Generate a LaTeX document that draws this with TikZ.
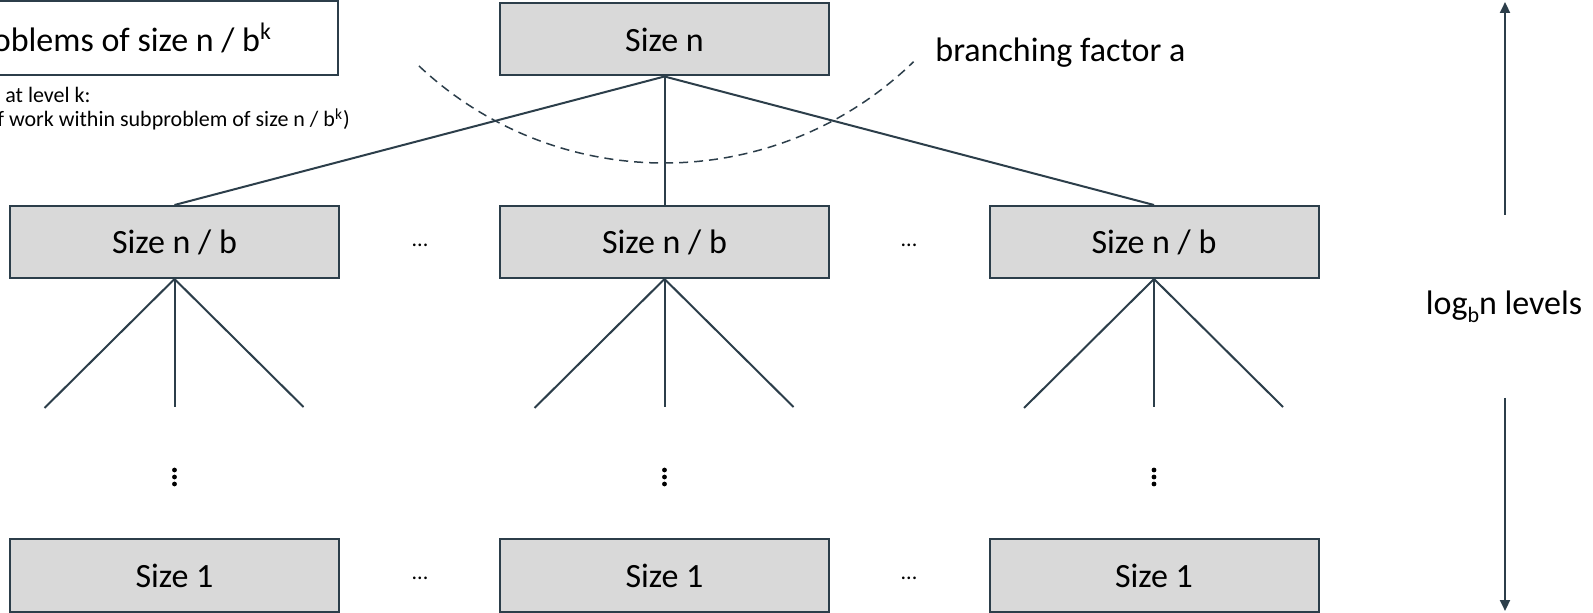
\documentclass[tikz,border=0pt]{standalone}
\usepackage{fontspec}
\setmainfont{Carlito}
\usetikzlibrary{arrows.meta}
\definecolor{edgec}{HTML}{2C3E4A}
\definecolor{boxgray}{HTML}{D9D9D9}
\begin{document}
\begin{tikzpicture}[x=0.5pt,y=-0.5pt,
  font=\fontsize{17pt}{20pt}\selectfont,
  sizebox/.style={draw=edgec, fill=boxgray, line width=1pt, minimum width=164.5pt, minimum height=36pt, inner sep=0pt},
  conn/.style={draw=edgec, line width=1pt},
  small/.style={font=\fontsize{11pt}{12pt}\selectfont, inner sep=0pt},
  tip/.style={-{Triangle[length=5.5pt,width=5pt]}}]
\useasboundingbox (0,0) rectangle (1593,613);
\fill[white] (0,0) rectangle (1593,613);

% level label box (clipped at left edge)
\node[draw=edgec, fill=white, line width=1pt, anchor=east, minimum height=37pt, inner ysep=0pt, inner xsep=33pt] (lvl) at (339,38) {oblems of size n / b\textsuperscript{k}};
\node[small, anchor=base west] (wk1) at (5,103) {at level k:};
\node[small, anchor=base west] (wk2) at (-3,127) {f work within subproblem of size n / b\smash{\textsuperscript{k}})};

% boxes
\node[sizebox] (top) at (664.5,39.5) {Size n};
\node[sizebox] (l2a) at (174.5,242) {Size n / b};
\node[sizebox] (l2b) at (664.5,242) {Size n / b};
\node[sizebox] (l2c) at (1154,242) {Size n / b};
\node[sizebox] (l3a) at (174.5,575.5) {Size 1};
\node[sizebox] (l3b) at (664.5,575.5) {Size 1};
\node[sizebox] (l3c) at (1154,575.5) {Size 1};

% horizontal ellipses
\node[small] (e1) at (420,245) {...};
\node[small] (e2) at (909,245) {...};
\node[small] (e3) at (420,578) {...};
\node[small] (e4) at (909,578) {...};

% top connectors
\draw[conn] (top.south) -- (l2a.north);
\draw[conn] (top.south) -- (l2b.north);
\draw[conn] (top.south) -- (l2c.north);

% child stubs and vertical dots
\foreach \n/\x in {l2a/174.5, l2b/664.5, l2c/1154} {
  \coordinate (\n-L) at (\x-130,408);
  \coordinate (\n-M) at (\x,407);
  \coordinate (\n-R) at (\x+129,407);
  \draw[conn] (\n.south) -- (\n-L);
  \draw[conn] (\n.south) -- (\n-M);
  \draw[conn] (\n.south) -- (\n-R);
  \foreach \y in {470,477,484} \fill (\x,\y) circle[radius=2.4];
}

% branching factor arc
\coordinate (arcL) at (419,66);
\draw[edgec, line width=0.75pt, dash pattern=on 4.5pt off 3pt] (arcL) arc[start angle=133.2, end angle=45.8, radius=358];
\node[anchor=base west, inner sep=0pt] (bf) at (935,62) {branching factor a};

% levels arrows
\node[anchor=base, inner sep=0pt] (lvls) at (1504,315) {log\raisebox{-4pt}{\fontsize{11pt}{12pt}\selectfont b}n levels};
\coordinate (upS) at (1505,215);
\coordinate (upE) at (1505,2);
\coordinate (dnS) at (1505,398);
\coordinate (dnE) at (1505,611);
\draw[conn, tip] (upS) -- (upE);
\draw[conn, tip] (dnS) -- (dnE);
\end{tikzpicture}
\end{document}
